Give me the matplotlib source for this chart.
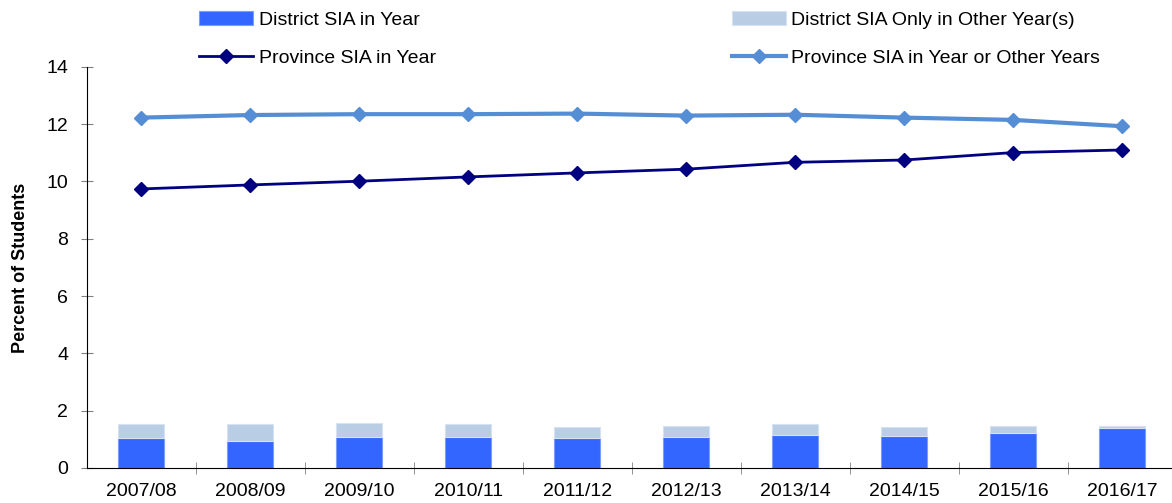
import numpy as np
import matplotlib.pyplot as plt
from matplotlib.ticker import FixedLocator

plt.rcParams['font.family'] = ['Liberation Sans', 'DejaVu Sans']

# Data
years = ["2007/08", "2008/09", "2009/10", "2010/11", "2011/12",
         "2012/13", "2013/14", "2014/15", "2015/16", "2016/17"]
district_in_year = [1.04, 0.94, 1.09, 1.09, 1.06, 1.09, 1.16, 1.13, 1.23, 1.40]
district_total = [1.54, 1.54, 1.57, 1.52, 1.44, 1.47, 1.54, 1.44, 1.47, 1.46]
province_in_year = [9.74, 9.88, 10.01, 10.16, 10.30, 10.43, 10.67, 10.75, 11.01, 11.10]
province_any_year = [12.23, 12.32, 12.35, 12.35, 12.37, 12.30, 12.33, 12.23, 12.15, 11.93]

district_other = [t - d for t, d in zip(district_total, district_in_year)]

fs = 14

fig = plt.figure(figsize=(11.72, 5.03), dpi=100)
ax = fig.add_axes([0.074, 0.0696, 0.930, 0.7974])

x = np.arange(len(years))
w = 0.42
b1 = ax.bar(x, district_in_year, width=w, color="#3366FF", edgecolor="#7A9BFF",
            linewidth=0.8, label="District SIA in Year", zorder=2)
b2 = ax.bar(x, district_other, width=w, bottom=district_in_year, color="#B9CDE5",
            edgecolor="#D6E2F0", linewidth=0.8,
            label="District SIA Only in Other Year(s)", zorder=2)
l1, = ax.plot(x, province_in_year, color="#000080", lw=2, marker="D", ms=7,
              label="Province SIA in Year", zorder=3)
l2, = ax.plot(x, province_any_year, color="#558ED5", lw=3, marker="D", ms=7.5,
              label="Province SIA in Year or Other Years", zorder=3)

ax.set_xlim(-0.5, len(years) - 0.5)
ax.set_ylim(0, 14)
ax.set_yticks(range(0, 15, 2))
ax.set_xticks(x)
ax.set_xticklabels(years)
ax.xaxis.set_minor_locator(FixedLocator(np.arange(0.5, len(years) - 0.5, 1)))

ax.spines["top"].set_visible(False)
ax.spines["right"].set_visible(False)
ax.spines["left"].set_color("black")
ax.spines["bottom"].set_color("black")

ax.tick_params(axis="x", which="major", length=0, labelsize=fs, pad=11)
ax.tick_params(axis="x", which="minor", direction="inout", length=9, color="#808080")
ax.tick_params(axis="y", direction="inout", length=8.5, color="#808080",
               labelsize=fs, pad=9)

ax.set_ylabel("Percent of Students", fontsize=13, fontweight="bold")
ax.yaxis.set_label_coords(-0.053, 0.5)

leg_kw = dict(loc="upper left", frameon=False, fontsize=fs, borderpad=0,
              borderaxespad=0, handlelength=2.75, handletextpad=0.3,
              labelspacing=1.05)
fig.legend(handles=[b1, l1], bbox_to_anchor=(0.170, 0.978), **leg_kw)
fig.legend(handles=[b2, l2], bbox_to_anchor=(0.6246, 0.978), **leg_kw)

fig.savefig("out.png", dpi=100)
